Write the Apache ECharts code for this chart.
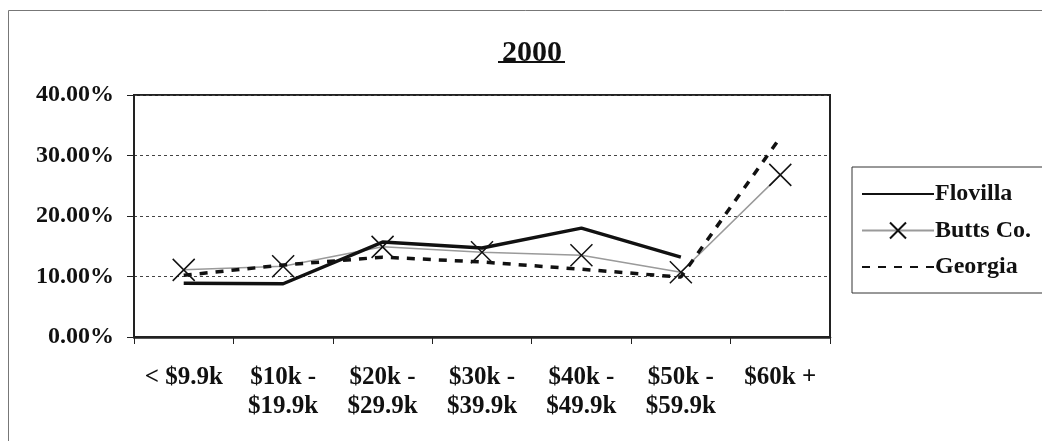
<!DOCTYPE html>
<html>
<head>
<meta charset="utf-8">
<script src="https://cdn.jsdelivr.net/npm/echarts@6/dist/echarts.min.js"></script>
<style>
  html, body { margin: 0; padding: 0; background: #fff; }
  #chart { width: 1042px; height: 441px; }
</style>
</head>
<body>
<div id="chart"></div>
<script>
// income brackets
var categories = ['< $9.9k', '$10k -\n$19.9k', '$20k -\n$29.9k', '$30k -\n$39.9k', '$40k -\n$49.9k', '$50k -\n$59.9k', '$60k +'];
// shares in percent
var flovilla = [8.9, 8.8, 15.7, 14.7, 18.0, 13.2, null];
var buttsCo = [11.1, 11.7, 14.9, 14.0, 13.5, 10.7, 26.8];
var georgia = [10.2, 11.9, 13.2, 12.4, 11.2, 9.9, 33.0];
var yTicks = [0, 10, 20, 30, 40];

var serif = '"Liberation Serif", "DejaVu Serif", serif';
var myChart = echarts.init(document.getElementById('chart'));

var option = {
  backgroundColor: '#fff',
  animation: false,
  title: {
    text: '2000',
    left: 497,
    top: 33,
    textStyle: { fontFamily: serif, fontWeight: 'bold', fontSize: 30, color: '#111' }
  },
  graphic: [
    // outer chart border
    { type: 'rect', shape: { x: 8.5, y: 10.5, width: 1100, height: 600 },
      style: { fill: 'none', stroke: '#777', lineWidth: 1 } },
    // title underline
    { type: 'line', shape: { x1: 498, y1: 62, x2: 565, y2: 62 },
      style: { stroke: '#111', lineWidth: 2 } }
  ],
  legend: {
    orient: 'vertical',
    left: 852,
    top: 167,
    padding: [15, 40, 14, 9],
    itemWidth: 72,
    itemHeight: 20,
    itemGap: 12.5,
    borderColor: '#333',
    borderWidth: 1,
    data: [
      { name: 'Flovilla', itemStyle: { opacity: 0 } },
      { name: 'Butts Co.' },
      { name: 'Georgia', itemStyle: { opacity: 0 } }
    ],
    textStyle: { fontFamily: serif, fontWeight: 'bold', fontSize: 24, color: '#111', lineHeight: 20, padding: [0, 0, 0, -4] }
  },
  grid: {
    left: 134,
    right: 212,
    top: 95,
    bottom: 104,
    show: true,
    borderColor: '#222',
    borderWidth: 2,
    backgroundColor: 'transparent'
  },
  xAxis: {
    type: 'category',
    data: categories,
    boundaryGap: true,
    axisLine: { lineStyle: { color: '#222', width: 2.5 } },
    axisTick: { show: true, length: 7, lineStyle: { color: '#222', width: 1 } },
    axisLabel: {
      interval: 0,
      margin: 26,
      fontFamily: serif,
      fontWeight: 'bold',
      fontSize: 25,
      lineHeight: 29,
      color: '#111'
    }
  },
  yAxis: {
    type: 'value',
    min: yTicks[0],
    max: yTicks[yTicks.length - 1],
    interval: 10,
    axisLine: { show: true, lineStyle: { color: '#222', width: 2 } },
    axisTick: { show: true, length: 7, lineStyle: { color: '#222', width: 1 } },
    axisLabel: {
      margin: 20,
      fontFamily: serif,
      fontWeight: 'bold',
      fontSize: 24,
      color: '#111',
      formatter: function (v) { return v.toFixed(2) + '%'; }
    },
    splitLine: { show: true, lineStyle: { color: '#444', width: 1, type: [3, 3] } }
  },
  series: [{
    name: 'Butts Co.',
    type: 'line',
    data: buttsCo,
    symbol: 'path://M0,0L10,10M10,0L0,10',
    symbolSize: 22,
    itemStyle: { color: '#000', borderColor: '#111', borderWidth: 1.5 },
    lineStyle: { color: '#9a9a9a', width: 1.5 },
    z: 2
  }, {
    name: 'Georgia',
    type: 'line',
    data: georgia,
    symbol: 'none',
    itemStyle: { color: '#111' },
    lineStyle: { color: '#111', width: 3.5, type: [8, 8] },
    z: 3
  }, {
    name: 'Flovilla',
    type: 'line',
    data: flovilla,
    symbol: 'none',
    itemStyle: { color: '#111' },
    lineStyle: { color: '#111', width: 3.5 },
    z: 4
  }]
};

myChart.setOption(option);
</script>
</body>
</html>
